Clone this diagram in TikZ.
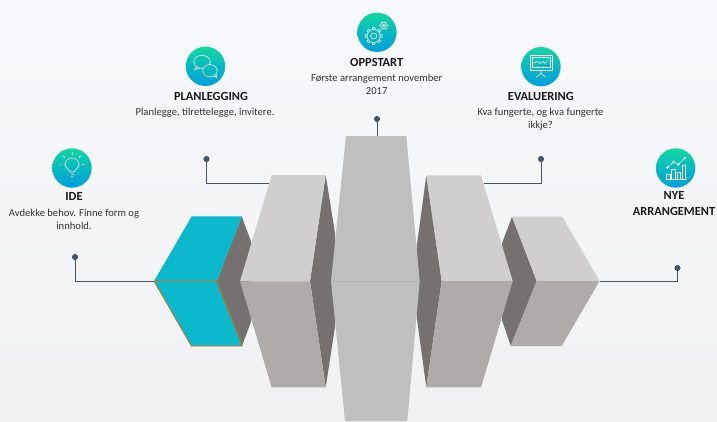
\documentclass[tikz,border=0pt]{standalone}
\usepackage{fontspec}
\usetikzlibrary{calc}
\setmainfont{Carlito}
\definecolor{linkblue}{HTML}{44546A}
\definecolor{boxteal}{HTML}{0BB8CC}
\definecolor{boxlight}{HTML}{D0CECE}
\definecolor{boxmid}{HTML}{AFABAB}
\definecolor{boxdark}{HTML}{767171}
\definecolor{boxcentre}{HTML}{BFBFBF}
\definecolor{ballgreen}{HTML}{12D8A0}
\definecolor{ballblue}{HTML}{009FDF}
\definecolor{bgtop}{HTML}{F7F9FC}
\definecolor{bgbottom}{HTML}{F1F1F2}
\tikzset{
  iconball/.style={circle, minimum size=29.5pt, inner sep=0pt, top color=ballgreen, bottom color=ballblue, middle color=ballgreen!45!ballblue},
  icon/.style={draw=white, line width=0.45pt, fill=none},
  titletext/.style={font=\fontsize{9.3}{12}\selectfont\bfseries, text=black!90, align=center, inner sep=0pt},
  bodytext/.style={font=\fontsize{7.95}{9}\selectfont, text=black!80, align=center, inner sep=0pt},
  pindot/.style={circle, fill=linkblue, minimum size=4.6pt, inner sep=0pt},
  link/.style={draw=linkblue, line width=0.7pt},
  linkthick/.style={draw=linkblue, line width=1.3pt}
}
\begin{document}
\begin{tikzpicture}[x=0.75pt, y=-0.75pt]
  % Background
  \useasboundingbox (0,0) rectangle (717,421);
  \shade[top color=bgtop, bottom color=bgbottom] (0,0) rectangle (717,421);

  % Points on the boxes
  \coordinate (tipL) at (154,281);
  \coordinate (boxTwoTop) at (270,183.5);
  \coordinate (centreTop) at (377,136);
  \coordinate (boxFourTop) at (484,183.5);
  \coordinate (tipR) at (599.5,281);

  % Pins
  \node[pindot] (ideDot) at (75,257) {};
  \node[pindot] (planDot) at (206.5,159) {};
  \node[pindot] (startDot) at (377,119) {};
  \node[pindot] (evalDot) at (541,159) {};
  \node[pindot] (newDot) at (677.5,268) {};

  % Connectors
  \draw[link] (ideDot) |- (tipL);
  \draw[link] (planDot) |- (boxTwoTop);
  \draw[link] (startDot) -- (centreTop);
  \draw[link] (evalDot) |- (boxFourTop);
  \draw[link] (newDot) |- (tipR);
  \draw[linkthick] (206,183.5) -- (boxTwoTop);
  \draw[linkthick] (541.4,183.5) -- (boxFourTop);

  % Small right box
  \fill[boxdark] (512,216.7) -- (502,243.3) -- (502,320) -- (510.7,346) -- (536.7,281) -- cycle;
  \fill[boxlight] (512,216.7) -- (562.3,216.7) -- (599.5,281) -- (536.7,281) -- cycle;
  \fill[boxmid] (536.7,281) -- (599.5,281) -- (561.7,346) -- (510.7,346) -- cycle;

  % Large right box
  \fill[boxdark] (426.3,175.3) -- (416.7,246.7) -- (416.7,316.7) -- (426.3,387.3) -- (441.7,281) -- cycle;
  \fill[boxlight] (426.3,175.3) -- (481,175.3) -- (512.7,281) -- (441.7,281) -- cycle;
  \fill[boxmid] (441.7,281) -- (512.7,281) -- (481,387.3) -- (426.3,387.3) -- cycle;

  % Teal box
  \fill[boxdark] (241.7,216.3) -- (251,241.7) -- (251,321.7) -- (242,346) -- (216.7,281.3) -- cycle;
  \fill[boxteal] (154,281.3) -- (191.7,216.3) -- (241.7,216.3) -- (216.7,281.3) -- cycle;
  \draw[fill=boxteal, draw=orange!85!black, line width=0.5pt] (154,281.3) -- (216.7,281.3) -- (242.3,346) -- (191.3,346) -- cycle;

  % Large left box
  \fill[boxdark] (325.7,175) -- (335,233) -- (335,326.7) -- (325.7,387.3) -- (310,281.3) -- cycle;
  \fill[boxlight] (240,281.3) -- (271.7,175) -- (325.7,175) -- (310,281.3) -- cycle;
  \fill[boxmid] (240,281.3) -- (310,281.3) -- (325.7,387.3) -- (271.7,387.3) -- cycle;

  % Centre box
  \fill[boxcentre] (346,136) -- (406.3,136) -- (419.7,281.3) -- (407.3,421) -- (345,421) -- (331,281.3) -- cycle;
  \draw[boxmid!70!boxcentre, line width=0.3pt] (331,281.3) -- (419.7,281.3);

  % Icon balls
  \node[iconball] (ideIcon) at (72,168) {};
  \node[iconball] (planIcon) at (205.5,66.3) {};
  \node[iconball] (startIcon) at (377,32.3) {};
  \node[iconball] (evalIcon) at (541,66.7) {};
  \node[iconball] (newIcon) at (675.7,168) {};

  % Bulb
  \begin{scope}[shift={(ideIcon.center)}]
    \draw[icon] (-2.2,4) .. controls (-2.5,1.5) and (-7,0) .. (-7,-3.5) .. controls (-7,-7.5) and (-3.5,-10) .. (0,-10) .. controls (3.5,-10) and (7,-7.5) .. (7,-3.5) .. controls (7,0) and (2.5,1.5) .. (2.2,4) -- cycle;
    \draw[icon] (-1.5,6) -- (1.5,6) (-0.8,8) -- (0.8,8);
    \foreach \a in {0,45,90,135,180} {
      \draw[icon] ($(0,-3.5)+(-\a:10)$) -- ($(0,-3.5)+(-\a:12.5)$);
    }
  \end{scope}

  % Speech bubbles
  \begin{scope}[shift={(planIcon.center)}]
    \draw[icon] (-3.5,-4.5) ellipse (8.2 and 6.5);
    \draw[icon] (-9,0.5) -- (-11,3.5) -- (-6,2);
    \draw[fill=ballgreen!45!ballblue, draw=white, line width=0.45pt] (4.5,4.5) ellipse (7.2 and 6.2);
    \draw[icon] (8,9.5) -- (11,11) -- (10.5,7);
  \end{scope}

  % Gears
  \begin{scope}[shift={(startIcon.center)}]
    \draw[icon] (-3.3,3.7) circle (6.5) (-3.3,3.7) circle (3);
    \foreach \a in {0,45,...,315} {
      \draw[icon] ($(-3.3,3.7)+(\a-12:6.5)$) -- ($(-3.3,3.7)+(\a-8:8.5)$) -- ($(-3.3,3.7)+(\a+8:8.5)$) -- ($(-3.3,3.7)+(\a+12:6.5)$);
    }
    \draw[icon] (7,-6.7) circle (3.4) (7,-6.7) circle (1.5);
    \foreach \a in {0,60,...,300} {
      \draw[icon] ($(7,-6.7)+(\a:3.4)$) -- ($(7,-6.7)+(\a:4.8)$);
    }
  \end{scope}

  % Screen
  \begin{scope}[shift={(evalIcon.center)}]
    \draw[icon] (-11,-11.5) rectangle (11.5,4);
    \draw[icon] (-8.5,-9) rectangle (9,0.5);
    \draw[icon] (-7,-3.5) -- (-4,-5.5) -- (-1,-3.5) -- (2,-5) -- (4,-3.5) -- (7.5,-7);
    \draw[icon] (0,4) -- (0,6.5) (-5,11) -- (0,6.5) -- (5,11);
  \end{scope}

  % Chart
  \begin{scope}[shift={(newIcon.center)}]
    \draw[icon] (-10,11) -- (11.5,11);
    \draw[icon] (-9,11) rectangle (-5.5,6.5);
    \draw[icon] (-4,11) rectangle (-0.5,1);
    \draw[icon] (1.7,11) rectangle (5,4);
    \draw[icon] (6.5,11) rectangle (10,-3);
    \draw[icon] (-8.5,-0.5) -- (-2,-6) -- (2.5,-3.5) -- (9,-10);
    \foreach \p in {(-8.5,-0.5),(-2,-6),(2.5,-3.5),(9,-10)} {
      \draw[icon] \p circle (1);
    }
  \end{scope}

  % Labels
  \node[titletext] (ideTitle) at (74,196) {IDE};
  \node[bodytext] (ideText) at (74,219.5) {Avdekke behov. Finne form og\\[0.6pt]innhold.};
  \node[titletext] (planTitle) at (211,96) {PLANLEGGING};
  \node[bodytext] (planText) at (205,113) {Planlegge, tilrettelegge, invitere.};
  \node[titletext] (startTitle) at (376.7,62) {OPPSTART};
  \node[bodytext] (startText) at (376.7,84.5) {Første arrangement november\\[0.6pt]2017};
  \node[titletext] (evalTitle) at (540.8,96) {EVALUERING};
  \node[bodytext] (evalText) at (540.5,119) {Kva fungerte, og kva fungerte\\[0.6pt]ikkje?};
  \node[titletext] (newTitle) at (674,204) {NYE\\ARRANGEMENT};
\end{tikzpicture}
\end{document}
